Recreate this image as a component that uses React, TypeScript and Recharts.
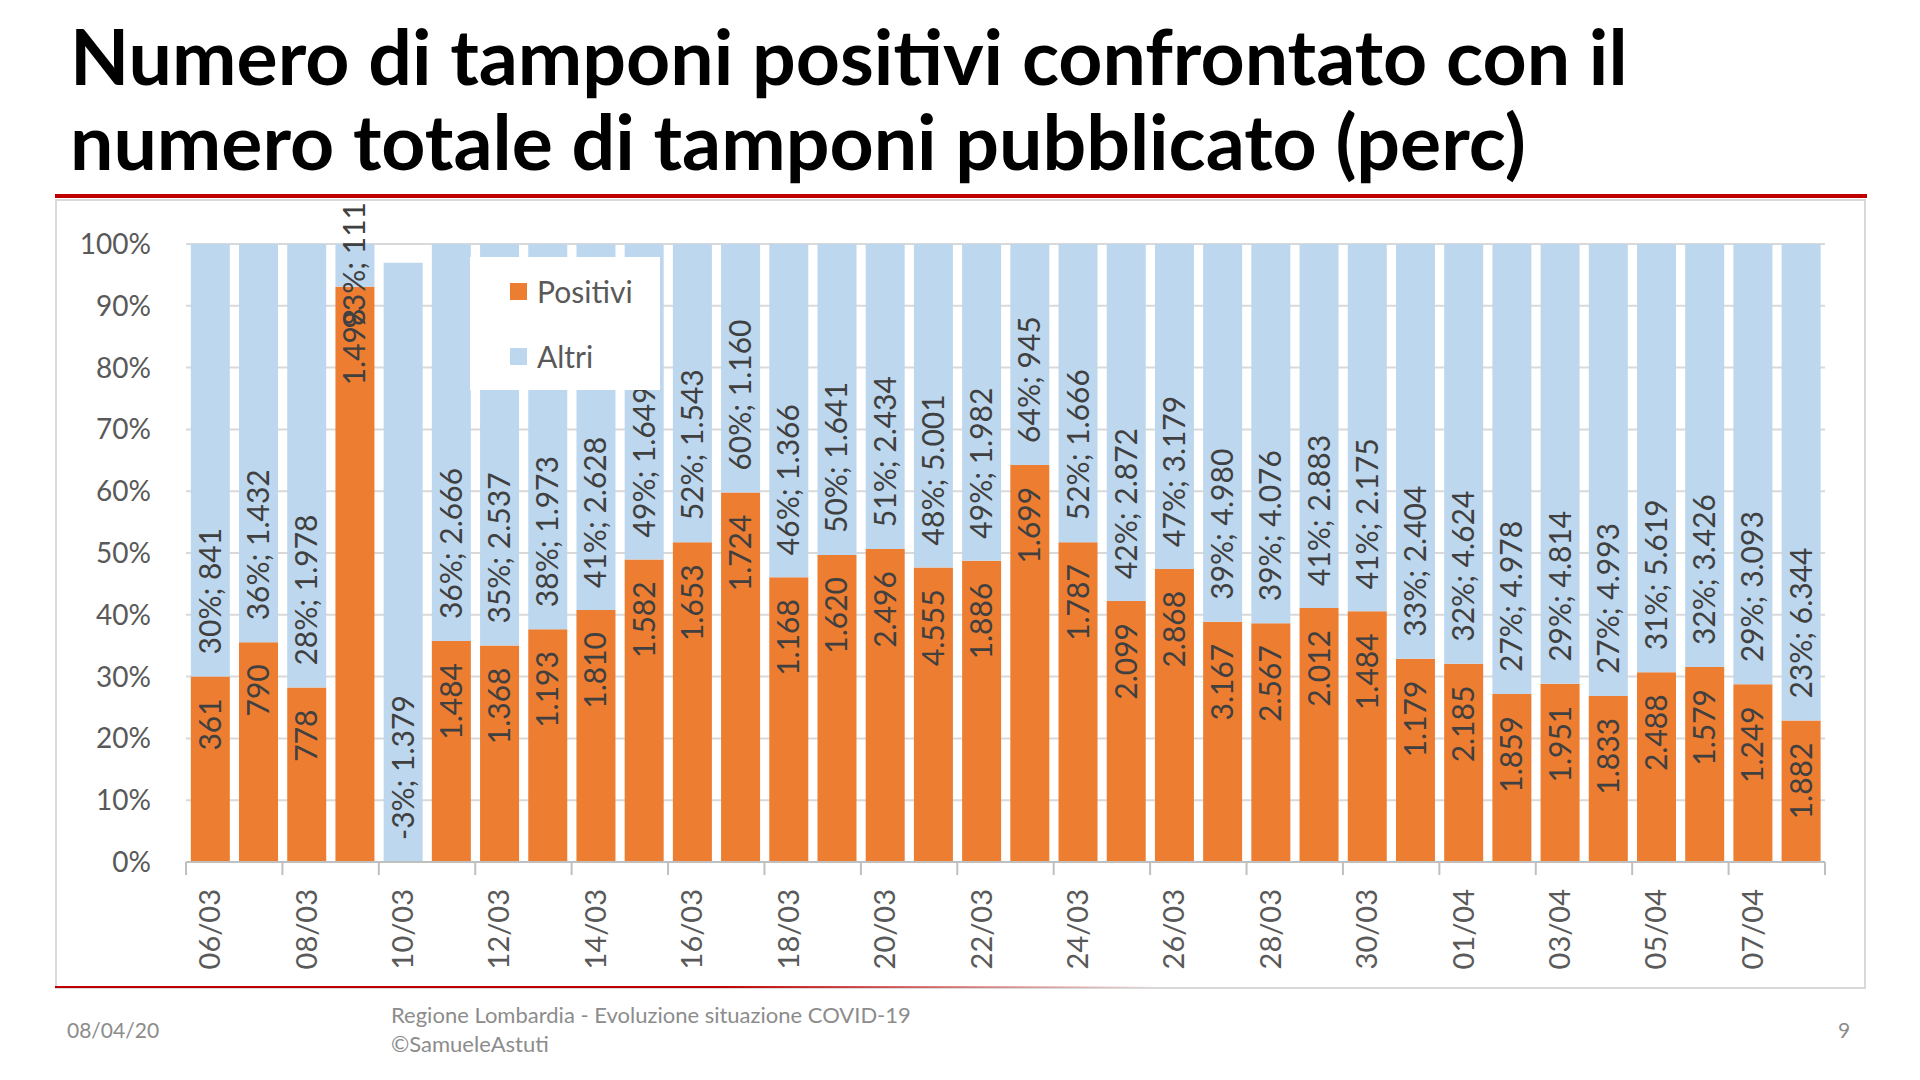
import React from "react";
import { BarChart, Bar, XAxis, YAxis, CartesianGrid, Legend, LabelList } from "recharts";

// dates, positive swabs and other swabs per day (Regione Lombardia)
const dates = [
  "06/03", "07/03", "08/03", "09/03", "10/03", "11/03", "12/03", "13/03", "14/03",
  "15/03", "16/03", "17/03", "18/03", "19/03", "20/03", "21/03", "22/03", "23/03",
  "24/03", "25/03", "26/03", "27/03", "28/03", "29/03", "30/03", "31/03", "01/04",
  "02/04", "03/04", "04/04", "05/04", "06/04", "07/04", "08/04",
];
const positivi = [
  361, 790, 778, 1498, -43, 1484, 1368, 1193, 1810, 1582, 1653, 1724, 1168, 1620,
  2496, 4555, 1886, 1699, 1787, 2099, 2868, 3167, 2567, 2012, 1484, 1179, 2185,
  1859, 1951, 1833, 2488, 1579, 1249, 1882,
];
const altri = [
  841, 1432, 1978, 111, 1379, 2666, 2537, 1973, 2628, 1649, 1543, 1160, 1366, 1641,
  2434, 5001, 1982, 945, 1666, 2872, 3179, 4980, 4076, 2883, 2175, 2404, 4624,
  4978, 4814, 4993, 5619, 3426, 3093, 6344,
];
const seriesNames = ["Positivi", "Altri"];
const yTicks = [0, 0.1, 0.2, 0.3, 0.4, 0.5, 0.6, 0.7, 0.8, 0.9, 1];

const FONT = "Lato, 'Open Sans', sans-serif";
const ORANGE = "#ED7D31";
const BLUE = "#BDD7EE";
const LABEL_SIZE = 30;
const PAD = 22;

// italian thousands separator
const fmt = (n: number) => {
  const s = String(Math.abs(n)).replace(/\B(?=(\d{3})+(?!\d))/g, ".");
  return n < 0 ? "-" + s : s;
};

// 100% stacked, Excel style (share of absolute total)
const rows = dates.map((date, i) => {
  const p = positivi[i];
  const a = altri[i];
  const tot = Math.abs(p) + a;
  return {
    date,
    pos: p / tot,
    alt: a / tot,
    posLabel: p < 0 ? "" : fmt(p),
    altLabel: `${Math.round((p / tot) * 100)}%; ${fmt(a)}`,
  };
});

// rough text length for the label font
const textLen = (s: string) => {
  let w = 0;
  for (const c of s) {
    if (/\d/.test(c)) w += 0.58;
    else if (c === "%") w += 0.8;
    else w += 0.26;
  }
  return w * LABEL_SIZE;
};

const box = (props: any) => {
  const vb = props.viewBox && props.viewBox.width !== undefined ? props.viewBox : props;
  return { x: Number(vb.x), y: Number(vb.y), width: Number(vb.width), height: Number(vb.height) };
};

const PosLabel = (props: any) => {
  const { value } = props;
  const { x, y, width, height } = box(props);
  if (!value || !(height > 0)) return null;
  const cx = x + width / 2;
  const ty = y + PAD;
  return (
    <text
      x={cx}
      y={ty}
      transform={`rotate(-90 ${cx} ${ty})`}
      textAnchor="end"
      dy="0.35em"
      fontSize={LABEL_SIZE}
      fontFamily={FONT}
      fill="#404040"
    >
      {value}
    </text>
  );
};

const AltLabel = (props: any) => {
  const { value } = props;
  const { x, y, width, height } = box(props);
  if (!value || !(height > 0)) return null;
  const cx = x + width / 2;
  const len = textLen(String(value));
  let ty = y + height - PAD;
  let anchor = "start";
  if (len + 2 * PAD > height) {
    ty = y + height / 2;
    anchor = "middle";
  }
  return (
    <text
      x={cx}
      y={ty}
      transform={`rotate(-90 ${cx} ${ty})`}
      textAnchor={anchor}
      dy="0.35em"
      fontSize={LABEL_SIZE}
      fontFamily={FONT}
      fill="#404040"
    >
      {value}
    </text>
  );
};

const DateTick = (props: any) => {
  const { x, y, payload } = props;
  const half = payload && payload.offset ? payload.offset : 24.1;
  const ty = y + 27;
  const last = payload.index === dates.length - 2;
  return (
    <g>
      <line x1={x - half} x2={x - half} y1={y} y2={y + 13} stroke="#BFBFBF" strokeWidth={2} />
      {last && <line x1={x + 3 * half} x2={x + 3 * half} y1={y} y2={y + 13} stroke="#BFBFBF" strokeWidth={2} />}
      <text
        x={x}
        y={ty}
        transform={`rotate(-90 ${x} ${ty})`}
        textAnchor="end"
        dy="0.35em"
        fontSize={29}
        fontFamily={FONT}
        fill="#595959"
      >
        {payload.value}
      </text>
    </g>
  );
};

const renderLegend = (props: any) => {
  const items = [...(props.payload || [])].sort(
    (a: any, b: any) => seriesNames.indexOf(a.value) - seriesNames.indexOf(b.value)
  );
  return (
    <div style={{ position: "relative", width: 190, height: 133, background: "#fff" }}>
      {items.map((p: any, i: number) => (
        <div
          key={p.value}
          style={{
            position: "absolute",
            left: 40,
            top: 20 + i * 65,
            height: 28,
            display: "flex",
            alignItems: "center",
          }}
        >
          <span style={{ width: 17, height: 17, background: p.color, display: "inline-block" }} />
          <span style={{ marginLeft: 10, fontFamily: FONT, fontSize: 30, color: "#595959" }}>{p.value}</span>
        </div>
      ))}
    </div>
  );
};

export default function App() {
  return (
    <div style={{ position: "absolute", left: 0, top: 0, width: 1920, height: 1080, background: "#fff", overflow: "hidden" }}>
      <div
        style={{
          position: "absolute",
          left: 70,
          top: 13,
          fontFamily: FONT,
          fontWeight: 700,
          fontSize: 77,
          lineHeight: "85px",
          color: "#000",
          whiteSpace: "nowrap",
        }}
      >
        Numero di tamponi positivi confrontato con il
        <br />
        numero totale di tamponi pubblicato (perc)
      </div>

      {/* chart area border and red rules */}
      <div style={{ position: "absolute", left: 55, top: 199, width: 1807, height: 786, border: "2px solid #D9D9D9" }} />
      <div style={{ position: "absolute", left: 55, top: 194, width: 1812, height: 4, background: "#C00000" }} />
      <div
        style={{
          position: "absolute",
          left: 55,
          top: 986,
          width: 1100,
          height: 2,
          background: "linear-gradient(to right, #C00000, #C00000 60%, rgba(192,0,0,0))",
        }}
      />

      <div style={{ position: "absolute", left: 0, top: 0 }}>
        <BarChart
          width={1920}
          height={1080}
          data={rows}
          stackOffset="sign"
          barCategoryGap="10%"
          margin={{ top: 244, right: 95, bottom: 98, left: 126 }}
        >
          <CartesianGrid vertical={false} stroke="#D9D9D9" strokeWidth={2} />
          <XAxis
            dataKey="date"
            interval={1}
            height={120}
            tickSize={0}
            tickMargin={0}
            tickLine={false}
            axisLine={{ stroke: "#BFBFBF", strokeWidth: 2 }}
            tick={<DateTick />}
          />
          <YAxis
            type="number"
            domain={[0, 1]}
            allowDataOverflow
            ticks={yTicks}
            width={60}
            tickSize={0}
            tickMargin={35}
            axisLine={false}
            tickLine={false}
            tickFormatter={(v: number) => `${Math.round(v * 100)}%`}
            tick={{ fontSize: 28, fontFamily: FONT, fill: "#595959" }}
          />
          <Legend
            layout="vertical"
            align="center"
            verticalAlign="middle"
            wrapperStyle={{ left: 470, top: 257, width: 190, height: 133 }}
            content={renderLegend}
          />
          <Bar dataKey="pos" name="Positivi" stackId="a" fill={ORANGE} isAnimationActive={false}>
            <LabelList dataKey="posLabel" content={<PosLabel />} />
          </Bar>
          <Bar dataKey="alt" name="Altri" stackId="a" fill={BLUE} isAnimationActive={false}>
            <LabelList dataKey="altLabel" content={<AltLabel />} />
          </Bar>
        </BarChart>
      </div>

      {/* footer */}
      <div style={{ position: "absolute", left: 67, top: 1017, fontFamily: FONT, fontSize: 21, color: "#8C8C8C" }}>08/04/20</div>
      <div style={{ position: "absolute", left: 391, top: 1000, fontFamily: FONT, fontSize: 22, lineHeight: "29px", color: "#8C8C8C" }}>
        Regione Lombardia - Evoluzione situazione COVID-19
        <br />
        ©SamueleAstuti
      </div>
      <div style={{ position: "absolute", left: 1838, top: 1017, fontFamily: FONT, fontSize: 21, color: "#8C8C8C" }}>9</div>
    </div>
  );
}
